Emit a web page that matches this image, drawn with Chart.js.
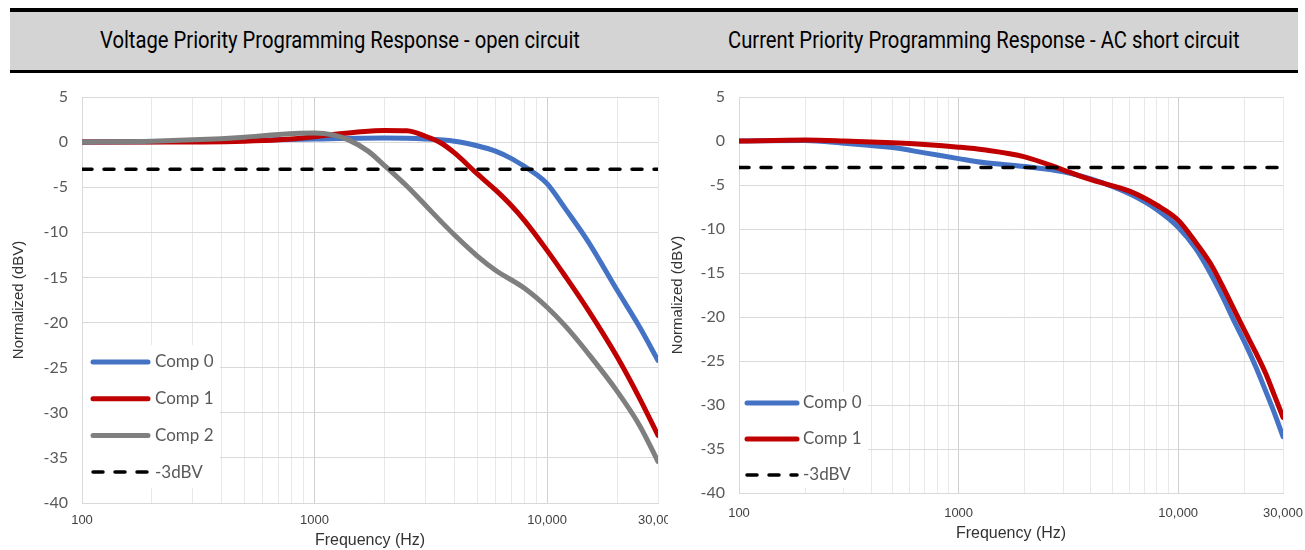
<!DOCTYPE html>
<html>
<head>
<meta charset="utf-8">
<script src="https://cdn.jsdelivr.net/npm/chart.js@4.4.0/dist/chart.umd.min.js"></script>
<style>
  body { margin: 0; background: #fff; width: 1305px; height: 550px; position: relative; overflow: hidden; }
  .banner { position: absolute; left: 10px; top: 8px; width: 1288px; height: 58px; background: #d4d4d4;
            border-top: 4px solid #000; border-bottom: 3px solid #000; }
  .title { position: absolute; top: 12px; height: 58px; line-height: 58px; text-align: center; color: #000;
           font-family: Roboto, sans-serif; font-size: 23px; }
  .title span { display: inline-block; transform-origin: center; white-space: nowrap; }
  canvas { position: absolute; top: 80px; }
</style>
</head>
<body>
<div class="banner"></div>
<div class="title" style="left:10px;width:660px;"><span data-w="480">Voltage Priority Programming Response - open circuit</span></div>
<div class="title" style="left:670px;width:628px;"><span data-w="512">Current Priority Programming Response - AC short circuit</span></div>
<canvas id="voltChart" width="668" height="470" style="left:0px;"></canvas>
<canvas id="currChart" width="641" height="470" style="left:664px;"></canvas>
<script>
// x grid: every 1..9 step of each decade, only a few get a label
const xGrid = [100, 200, 300, 400, 500, 600, 700, 800, 900,
  1000, 2000, 3000, 4000, 5000, 6000, 7000, 8000, 9000, 10000, 20000, 30000]
const xTickLabels = { 100: '100', 1000: '1000', 10000: '10,000', 30000: '30,000' }
const yMin = -40
const yMax = 5
const yStep = 5

const cutoffFreq = [100, 30000]
const cutoffLevel = [-3, -3]

// voltage priority - open circuit
const vFreq0 = [100, 200, 500, 1000, 2000, 3000, 4000, 5000, 6000, 7000, 8000, 9000, 10000, 12000, 15000, 20000, 25000, 30000]
const vComp0 = [0, 0.05, 0.2, 0.35, 0.45, 0.35, 0.1, -0.4, -1.0, -1.8, -2.7, -3.6, -4.6, -7.4, -11.0, -16.4, -20.5, -24.2]
const vFreq1 = [100, 200, 500, 700, 1000, 1200, 1500, 2000, 2500, 3000, 3500, 4000, 5000, 6000, 7000, 8000, 10000, 12000, 15000, 20000, 25000, 30000]
const vComp1 = [0, 0, 0.1, 0.25, 0.6, 0.85, 1.1, 1.3, 1.25, 0.65, -0.1, -1.2, -3.5, -5.3, -7.0, -8.7, -12.0, -14.9, -18.6, -23.8, -28.4, -32.5]
const vFreq2 = [100, 200, 300, 500, 700, 1000, 1200, 1400, 1700, 2000, 2500, 3000, 3500, 4000, 5000, 6000, 8000, 10000, 12000, 15000, 20000, 25000, 30000]
const vComp2 = [0, 0.1, 0.25, 0.55, 0.85, 1.0, 0.8, 0.25, -1.0, -2.6, -4.9, -7.0, -8.8, -10.3, -12.6, -14.2, -16.2, -18.3, -20.4, -23.4, -27.6, -31.4, -35.4]

// current priority - AC short circuit
const cFreq0 = [100, 200, 300, 500, 700, 1000, 1300, 2000, 3000, 4000, 6000, 8000, 10000, 12000, 14000, 16000, 18000, 20000, 22500, 25000, 27500, 30000]
const cComp0 = [0, 0.05, -0.25, -0.75, -1.35, -2.0, -2.45, -2.9, -3.5, -4.3, -6.0, -7.8, -9.8, -12.2, -15.0, -17.8, -20.5, -22.8, -25.6, -28.4, -31.0, -33.6]
const cFreq1 = [100, 200, 300, 500, 700, 1000, 1300, 2000, 3000, 4000, 6000, 8000, 10000, 12000, 14000, 16000, 18000, 20000, 22500, 25000, 27500, 30000]
const cComp1 = [0, 0.1, 0, -0.2, -0.4, -0.7, -1.0, -1.8, -3.3, -4.4, -5.7, -7.3, -9.0, -11.5, -13.9, -16.6, -19.2, -21.5, -24.0, -26.4, -29.0, -31.4]

Chart.defaults.font.family = 'Liberation Sans'

// squeeze the banner titles to the condensed width of the original
document.querySelectorAll('.title span').forEach(s => {
  s.style.transform = 'scaleX(' + (s.dataset.w / s.offsetWidth) + ')'
})

function pts(freqs, vals) {
  return freqs.map((f, i) => ({ x: f, y: vals[i] }))
}

function line(label, freqs, vals, color, order, dash) {
  return {
    label: label,
    data: pts(freqs, vals),
    borderColor: color,
    borderWidth: dash ? 3.5 : 5,
    borderDash: dash || [],
    borderCapStyle: 'round',
    cubicInterpolationMode: 'monotone',
    pointRadius: 0,
    pointHoverRadius: 0,
    order: order
  }
}

// white legend box drawn inside the plot
const boxLegend = {
  id: 'boxLegend',
  afterDatasetsDraw(chart, args, opts) {
    const ctx = chart.ctx
    const a = chart.chartArea
    ctx.save()
    ctx.fillStyle = '#fff'
    ctx.fillRect(a.left + opts.box[0], a.top + opts.box[1], opts.box[2], opts.box[3])
    chart.data.datasets.forEach((ds, i) => {
      const y = a.top + opts.rowTop + i * opts.rowGap
      ctx.beginPath()
      ctx.lineWidth = ds.borderWidth
      ctx.strokeStyle = ds.borderColor
      ctx.lineCap = 'round'
      ctx.setLineDash(ds.borderDash)
      ctx.moveTo(a.left + opts.lineX[0], y)
      ctx.lineTo(a.left + opts.lineX[1], y)
      ctx.stroke()
      ctx.setLineDash([])
      ctx.fillStyle = '#595959'
      ctx.font = '17px Lato'
      ctx.textBaseline = 'middle'
      ctx.fillText(ds.label, a.left + opts.textX, y)
    })
    ctx.restore()
  }
}

function makeChart(id, datasets, s) {
  return new Chart(document.getElementById(id), {
    type: 'line',
    data: { datasets: datasets },
    plugins: [boxLegend],
    options: {
      responsive: false,
      animation: false,
      events: [],
      layout: { padding: { left: s.padLeft, right: s.padRight, top: 17, bottom: 0 } },
      plugins: {
        legend: { display: false },
        tooltip: { enabled: false },
        boxLegend: s.legend
      },
      scales: {
        x: {
          type: 'logarithmic',
          min: 100,
          max: 30000,
          afterBuildTicks: (scale) => { scale.ticks = xGrid.map(v => ({ value: v })) },
          afterFit: (scale) => { scale.height = s.xHeight; scale.paddingLeft = 0; scale.paddingRight = 0 },
          ticks: {
            autoSkip: false,
            maxRotation: 0,
            padding: s.xTickPad,
            color: '#404040',
            font: { size: 13 },
            callback: (v) => xTickLabels[v] || ''
          },
          grid: {
            drawTicks: false,
            color: (c) => (c.tick && (c.tick.value === 1000 || c.tick.value === 10000)) ? '#d0d0d0' : '#e8e8e8'
          },
          border: { color: '#d9d9d9' },
          title: { display: true, text: 'Frequency (Hz)', color: '#333', font: { size: 16 },
                   padding: { top: 0, bottom: s.xTitlePad } }
        },
        y: {
          min: yMin,
          max: yMax,
          // fixed width, and no extra room asked for the end labels
          afterFit: (scale) => { scale.width = s.yWidth; scale.paddingTop = 0; scale.paddingBottom = 0 },
          ticks: { stepSize: yStep, padding: 14, color: '#595959', font: { family: 'Lato', size: 16 } },
          grid: { drawTicks: false, color: '#d9d9d9' },
          border: { color: '#d9d9d9' },
          title: { display: true, text: 'Normalized (dBV)', color: '#333', font: { size: 15 },
                   padding: { top: s.yTitlePad, bottom: 4 } }
        }
      }
    }
  })
}

makeChart('voltChart', [
  line('Comp 0', vFreq0, vComp0, '#4472c4', 4),
  line('Comp 1', vFreq1, vComp1, '#c00000', 3),
  line('Comp 2', vFreq2, vComp2, '#7f7f7f', 2),
  line('-3dBV', cutoffFreq, cutoffLevel, '#000', 1, [10, 12])
], {
  padLeft: 6, padRight: 10, yWidth: 76, yTitlePad: 4,
  xHeight: 47, xTickPad: 10, xTitlePad: 0,
  legend: { box: [1, 248, 137, 143], rowTop: 265, rowGap: 36.7, lineX: [11, 66], textX: 73 }
})

makeChart('currChart', [
  line('Comp 0', cFreq0, cComp0, '#4472c4', 3),
  line('Comp 1', cFreq1, cComp1, '#c00000', 2),
  line('-3dBV', cutoffFreq, cutoffLevel, '#000', 1, [10, 12])
], {
  padLeft: 0, padRight: 22, yWidth: 75, yTitlePad: 5,
  xHeight: 57, xTickPad: 13, xTitlePad: 7,
  legend: { box: [1, 295, 128, 96], rowTop: 306, rowGap: 36, lineX: [8, 58], textX: 64 }
})
</script>
</body>
</html>
